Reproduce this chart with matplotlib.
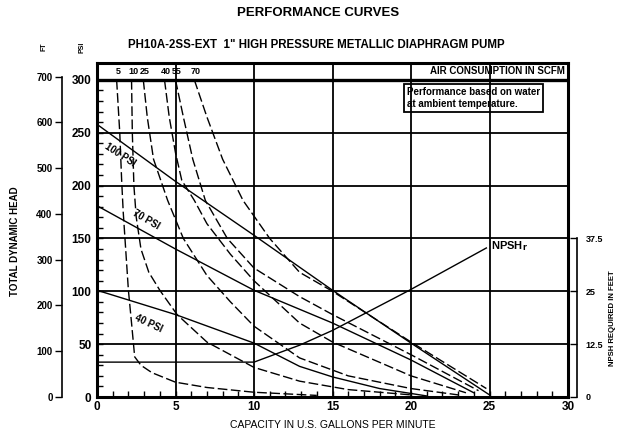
import matplotlib
matplotlib.use("Agg")
import matplotlib.pyplot as plt
import numpy as np

plt.rcParams['font.family'] = ['Liberation Sans', 'DejaVu Sans']
plt.rcParams['font.weight'] = 'bold'

# air consumption curves (SCFM), gpm vs psi
scfm_labels = ['5', '10', '25', '40', '55', '70']
scfm5_q = [1.25, 1.45, 1.57, 1.67, 2.0, 2.2, 2.4, 2.8, 3.5, 5, 7, 10, 14]
scfm5_p = [300, 250, 205, 175, 101, 70, 38, 30, 23, 14, 9, 4.5, 1.5]
scfm10_q = [2.2, 2.25, 2.35, 2.5, 2.8, 3.3, 4.0, 5.1, 7, 10, 12.9, 16, 20]
scfm10_p = [300, 250, 200, 170, 140, 118, 101, 78, 52, 28, 15, 7, 2]
scfm25_q = [2.95, 3.2, 3.6, 4.5, 5.5, 7, 8.5, 10, 12.9, 16, 20, 23]
scfm25_p = [300, 265, 225, 186, 150, 115, 90, 67, 37, 20, 8, 2]
scfm40_q = [4.3, 4.6, 5.0, 5.4, 6.2, 7.0, 8.5, 10, 12.9, 15, 20, 23.5]
scfm40_p = [300, 265, 231, 205, 186, 164, 135, 110, 70, 52, 20, 4]
scfm55_q = [5.0, 5.5, 6.1, 6.9, 8.3, 10, 12.9, 15, 20, 24.3]
scfm55_p = [300, 265, 225, 186, 150, 122, 95, 78, 40, 6]
scfm70_q = [6.2, 7.0, 8.0, 9.3, 11, 12.9, 15, 20, 24.8]
scfm70_p = [300, 265, 225, 186, 150, 118, 100, 52, 8]

# air inlet pressure curves
psi100_q = [0, 5, 10, 15, 20, 25]
psi100_p = [258, 204, 153, 101, 51, 2]
psi70_q = [0, 5, 10, 15, 20, 24]
psi70_p = [181, 140, 101, 70, 35, 4]
psi40_q = [0, 5, 10, 12.9, 15, 18, 21]
psi40_p = [101, 78, 51, 29, 19, 8, 1]

# NPSHr in feet
npsh_q = [0, 10, 12.9, 15, 19.9, 24.8]
npsh_ft = [8.25, 8.25, 12.25, 15.75, 25.25, 35.25]

W, H = 624, 442
fig = plt.figure(figsize=(W / 100, H / 100), dpi=100)
ax = fig.add_axes([97 / W, 1 - 397 / H, (568 - 97) / W, (397 - 63) / H])

ax.set_xlim(0, 30)
ax.set_ylim(0, 316)
ax.set_xticks(range(0, 31, 5))
ax.set_xticks(range(0, 31), minor=True)
ax.set_yticks(range(0, 301, 50))
ax.set_yticks(range(0, 301, 10), minor=True)
ax.tick_params(which='both', direction='in', color='black', width=1)
ax.tick_params(which='major', length=4, labelsize=8.5, pad=3)
ax.tick_params(which='minor', length=4)
ax.tick_params(axis='y', pad=4)
for s in ax.spines.values():
    s.set_linewidth(2.2)
ax.grid(True, which='major', color='black', linewidth=1.3)
ax.axhline(300, color='black', linewidth=2.4)

dash = (0, (7, 2.5))
curves = [(scfm5_q, scfm5_p), (scfm10_q, scfm10_p), (scfm25_q, scfm25_p),
          (scfm40_q, scfm40_p), (scfm55_q, scfm55_p), (scfm70_q, scfm70_p)]
for (q, p), lab in zip(curves, scfm_labels):
    ax.plot(q, p, color='black', linewidth=1.0, linestyle=dash)
    ax.text(q[0] + 0.1, 308, lab, fontsize=6.5, ha='center', va='center')
ax.text(29.8, 308, 'AIR CONSUMPTION IN SCFM', fontsize=7, ha='right', va='center')

ax.plot(psi100_q, psi100_p, color='black', linewidth=1.0)
ax.plot(psi70_q, psi70_p, color='black', linewidth=1.0)
ax.plot(psi40_q, psi40_p, color='black', linewidth=1.0)
ax.text(1.45, 229, '100 PSI', fontsize=7, rotation=-33, ha='center', va='center')
ax.text(3.1, 168, '70 PSI', fontsize=7, rotation=-30, ha='center', va='center')
ax.text(3.25, 70, '40 PSI', fontsize=7, rotation=-25, ha='center', va='center')

ax.text(26.3, 143, 'NPSH$_\\mathbf{r}$', fontsize=8, ha='center', va='center')
ax.text(19.75, 283, 'Performance based on water\nat ambient temperature.',
        fontsize=7, ha='left', va='center', linespacing=1.3,
        bbox=dict(boxstyle='square,pad=0.3', fc='none', ec='black', lw=1.3))

ax.set_xlabel('CAPACITY IN U.S. GALLONS PER MINUTE', fontsize=7.5, labelpad=5)

# NPSHr axis (feet) on the right
ax2 = ax.twinx()
ax2.set_ylim(0, 316 / 4)
ax2.plot(npsh_q, npsh_ft, color='black', linewidth=1.0)
for k in ['top', 'bottom', 'left']:
    ax2.spines[k].set_visible(False)
ax2.spines['right'].set_position(('outward', 6.5))
ax2.spines['right'].set_bounds(0, 37.5)
ax2.spines['right'].set_linewidth(1.2)
ax2.set_yticks([0, 12.5, 25, 37.5])
ax2.set_yticklabels(['0', '12.5', '25', '37.5'])
ax2.tick_params(direction='in', length=5, width=1, labelsize=6.5, pad=6)

# feet of head axis on the far left
ax3 = ax.twinx()
ax3.set_ylim(0, 316 * 2.31)
for k in ['top', 'bottom', 'right']:
    ax3.spines[k].set_visible(False)
ax3.spines['left'].set_visible(True)
ax3.spines['left'].set_position(('outward', 25))
ax3.spines['left'].set_bounds(0, 700)
ax3.spines['left'].set_linewidth(1.2)
ax3.yaxis.tick_left()
ax3.set_yticks(range(0, 701, 100))
ax3.tick_params(direction='out', length=5, width=1, labelsize=7, pad=2)

fig.text(318 / W, 1 - 13 / H, 'PERFORMANCE CURVES', fontsize=9.5, ha='center', va='center')
fig.text(316 / W, 1 - 45 / H, 'PH10A-2SS-EXT  1" HIGH PRESSURE METALLIC DIAPHRAGM PUMP',
         fontsize=8.3, ha='center', va='center')
fig.text(44 / W, 1 - 47 / H, 'FT', fontsize=5, rotation=90, ha='center', va='center')
fig.text(82 / W, 1 - 47 / H, 'PSI', fontsize=5, rotation=90, ha='center', va='center')
fig.text(15 / W, 1 - 241 / H, 'TOTAL DYNAMIC HEAD', fontsize=7, rotation=90, ha='center', va='center')
fig.text(613 / W, 1 - 318 / H, 'NPSH REQUIRED IN FEET', fontsize=5.6, rotation=90, ha='center', va='center')

fig.savefig('out.png', dpi=100)
